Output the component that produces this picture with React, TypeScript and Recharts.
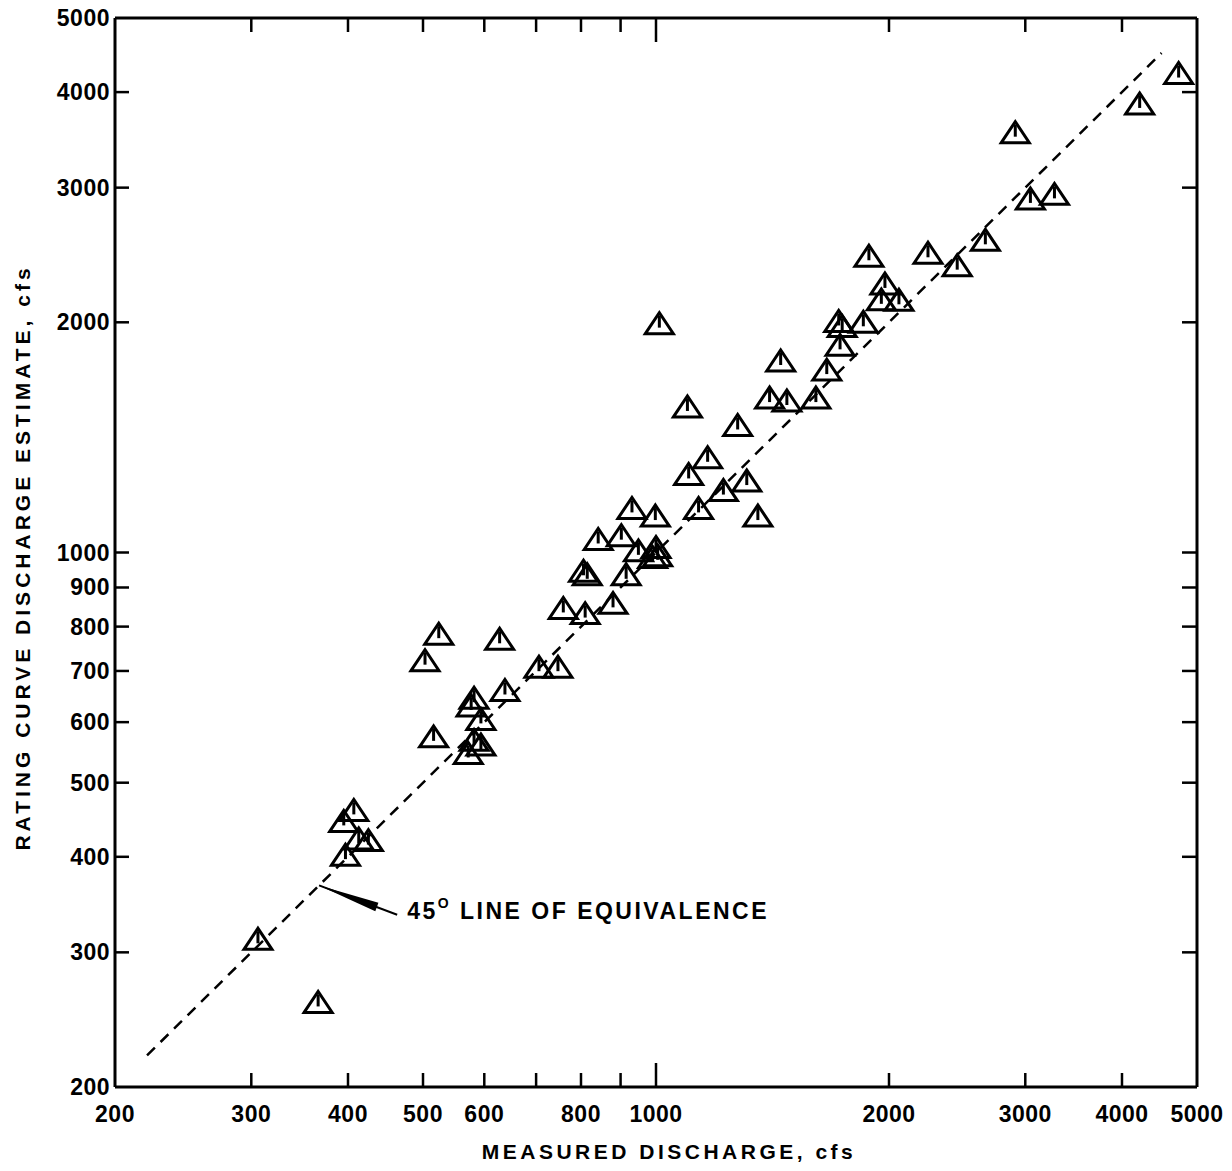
import React from 'react';
import {
  ScatterChart,
  Scatter,
  XAxis,
  YAxis,
  ReferenceLine,
} from 'recharts';

// measured discharge (cfs) vs rating curve estimate (cfs)
const measured = [
  306, 366, 407, 395, 413, 425, 397, 503, 524, 516,
  628, 582, 577, 594, 582, 594, 572, 638, 706, 747,
  759, 810, 880, 806, 815, 915, 842, 902, 949, 1000,
  1005, 990, 931, 998, 1135, 1222, 1310, 1354, 1102, 1166,
  1275, 1098, 1010, 1402, 1476, 1609, 1449, 1662, 1729, 1722,
  1740, 1853, 1884, 1976, 1955, 2060, 2246, 2450, 2664, 2912,
  3046, 3272, 4216, 4734,
];
const estimated = [
  312, 258, 460, 445, 422, 420, 402, 722, 782, 574,
  770, 645, 630, 605, 568, 560, 546, 660, 708, 708,
  845, 832, 858, 945, 935, 935, 1040, 1052, 1005, 1015,
  990, 985, 1142, 1116, 1142, 1205, 1240, 1116, 1265, 1330,
  1466, 1550, 1992, 1592, 1578, 1592, 1780, 1732, 1866, 2005,
  1975, 2000, 2440, 2245, 2140, 2137, 2462, 2372, 2560, 3540,
  2900, 2940, 3860, 4230,
];

const xTicks = [200, 300, 400, 500, 600, 700, 800, 900, 1000, 2000, 3000, 4000, 5000];
const xHidden = [700, 900];
const yTicks = [200, 300, 400, 500, 600, 700, 800, 900, 1000, 2000, 3000, 4000, 5000];

// 45 degree line of equivalence
const equivLine = [
  { x: 220, y: 220 },
  { x: 4500, y: 4500 },
];
// arrow from annotation text to the line
const arrowSeg = [
  { x: 463, y: 336 },
  { x: 367, y: 367 },
];

const points = measured.map((m, i) => ({ x: m, y: estimated[i] }));

const FONT = '"Liberation Sans", Arial, Helvetica, sans-serif';

const Triangle = (props: any) => {
  const { cx, cy } = props;
  return (
    <g>
      <path
        d={`M${cx - 14},${cy + 10} L${cx},${cy - 11} L${cx + 14},${cy + 10} Z`}
        fill="none"
        stroke="#000"
        strokeWidth={3}
        strokeLinejoin="miter"
      />
      <line x1={cx} y1={cy - 8} x2={cx} y2={cy + 4} stroke="#000" strokeWidth={3} />
    </g>
  );
};

const Nothing = () => <g />;

const BottomTick = (props: any) => {
  const { x, y, payload } = props;
  const v = payload.value;
  const len = v === 1000 ? 24 : 14;
  return (
    <g>
      {v !== 200 && v !== 5000 && (
        <line x1={x} y1={y} x2={x} y2={y - len} stroke="#000" strokeWidth={2.5} />
      )}
      {!xHidden.includes(v) && (
        <text
          x={x}
          y={y + 35}
          textAnchor="middle"
          fontFamily={FONT}
          fontWeight={700}
          fontSize={23}
          letterSpacing={0.5}
          fill="#000"
        >
          {v}
        </text>
      )}
    </g>
  );
};

const TopTick = (props: any) => {
  const { x, y, payload } = props;
  const v = payload.value;
  if (v === 200 || v === 5000) return <g />;
  const len = v === 1000 ? 24 : 14;
  return <line x1={x} y1={y} x2={x} y2={y + len} stroke="#000" strokeWidth={2.5} />;
};

const LeftTick = (props: any) => {
  const { x, y, payload } = props;
  const v = payload.value;
  return (
    <g>
      {v !== 200 && v !== 5000 && (
        <line x1={x} y1={y} x2={x + 14} y2={y} stroke="#000" strokeWidth={2.5} />
      )}
      <text
        x={x - 5}
        y={y + 8}
        textAnchor="end"
        fontFamily={FONT}
        fontWeight={700}
        fontSize={23}
        letterSpacing={0.5}
        fill="#000"
      >
        {v}
      </text>
    </g>
  );
};

const RightTick = (props: any) => {
  const { x, y, payload } = props;
  const v = payload.value;
  if (v === 200 || v === 5000) return <g />;
  return <line x1={x} y1={y} x2={x - 15} y2={y} stroke="#000" strokeWidth={2.5} />;
};

const Arrow = (props: any) => {
  const { x1, y1, x2, y2 } = props;
  const dx = x1 - x2;
  const dy = y1 - y2;
  const len = Math.sqrt(dx * dx + dy * dy);
  const ux = dx / len;
  const uy = dy / len;
  const bx = x2 + ux * len * 0.74;
  const by = y2 + uy * len * 0.74;
  const w = 4.5;
  return (
    <g>
      <line x1={x1} y1={y1} x2={x2} y2={y2} stroke="#000" strokeWidth={2} />
      <path
        d={`M${x2},${y2} L${bx - uy * w},${by + ux * w} L${bx + uy * w},${by - ux * w} Z`}
        fill="#000"
      />
      <text x={x1 + 10} y={y1 + 4} fontFamily={FONT} fontWeight={700} fontSize={23} letterSpacing={2.5} fill="#000">
        45
        <tspan fontSize={14} dy={-11}>O</tspan>
        <tspan dy={11}> LINE OF EQUIVALENCE</tspan>
      </text>
    </g>
  );
};

const XTitle = (props: any) => {
  const { viewBox } = props;
  const cx = viewBox.x + viewBox.width / 2 + 13;
  return (
    <text x={cx} y={viewBox.y + 72} textAnchor="middle" fontFamily={FONT} fontWeight={700} fontSize={21} letterSpacing={3.5} fill="#000">
      MEASURED DISCHARGE, cfs
    </text>
  );
};

const YTitle = (props: any) => {
  const { viewBox } = props;
  const cx = viewBox.x + 22;
  const cy = viewBox.y + viewBox.height / 2 + 5;
  return (
    <text
      x={cx}
      y={cy}
      transform={`rotate(-90, ${cx}, ${cy})`}
      textAnchor="middle"
      fontFamily={FONT}
      fontWeight={700}
      fontSize={21}
      letterSpacing={4}
      fill="#000"
    >
      RATING CURVE DISCHARGE ESTIMATE, cfs
    </text>
  );
};

const axisStyle = { stroke: '#000', strokeWidth: 3 };

const App = () => {
  return (
    <div style={{ width: 1224, height: 1163, background: '#fff' }}>
      <ScatterChart width={1224} height={1163} margin={{ top: 9, right: 34, bottom: 19, left: 0 }}>
        <XAxis
          dataKey="x"
          type="number"
          scale="log"
          domain={[200, 5000]}
          allowDataOverflow
          ticks={xTicks}
          interval={0}
          height={65}
          tickSize={0}
          tickMargin={0}
          tickLine={false}
          tick={<BottomTick />}
          axisLine={axisStyle}
          label={<XTitle />}
        />
        <XAxis
          xAxisId="top"
          dataKey="x"
          orientation="top"
          type="number"
          scale="log"
          domain={[200, 5000]}
          allowDataOverflow
          ticks={xTicks}
          interval={0}
          height={1}
          tickSize={0}
          tickMargin={0}
          tickLine={false}
          tick={<TopTick />}
          axisLine={axisStyle}
        />
        <YAxis
          dataKey="y"
          type="number"
          scale="log"
          domain={[200, 5000]}
          allowDataOverflow
          ticks={yTicks}
          interval={0}
          width={107}
          tickSize={0}
          tickMargin={0}
          tickLine={false}
          tick={<LeftTick />}
          axisLine={axisStyle}
          label={<YTitle />}
        />
        <YAxis
          yAxisId="right"
          dataKey="y"
          orientation="right"
          type="number"
          scale="log"
          domain={[200, 5000]}
          allowDataOverflow
          ticks={yTicks}
          interval={0}
          width={1}
          tickSize={0}
          tickMargin={0}
          tickLine={false}
          tick={<RightTick />}
          axisLine={axisStyle}
        />
        <ReferenceLine
          segment={equivLine}
          stroke="#000"
          strokeWidth={2.5}
          strokeDasharray="11 8"
          ifOverflow="visible"
        />
        <ReferenceLine segment={arrowSeg} shape={<Arrow />} ifOverflow="visible" />
        <Scatter data={points} shape={<Triangle />} isAnimationActive={false} />
        <Scatter
          data={equivLine}
          xAxisId="top"
          yAxisId="right"
          shape={<Nothing />}
          isAnimationActive={false}
          legendType="none"
        />
      </ScatterChart>
    </div>
  );
};

export default App;
